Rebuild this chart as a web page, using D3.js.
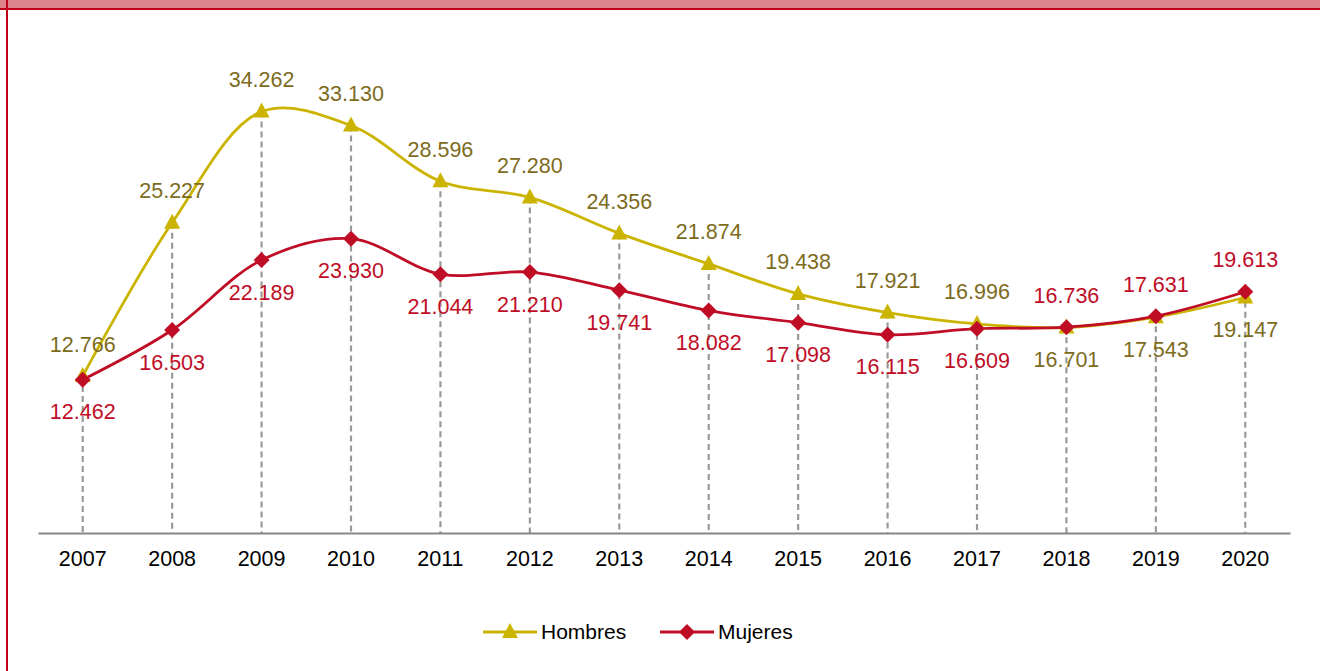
<!DOCTYPE html>
<html>
<head>
<meta charset="utf-8">
<script src="https://cdn.jsdelivr.net/npm/d3@7"></script>
<style>
  body { margin: 0; background: #fff; }
  svg { display: block; font-family: "Liberation Sans", Arial, sans-serif; }
</style>
</head>
<body>
<div class="chart"></div>
<script>
var years = ["2007", "2008", "2009", "2010", "2011", "2012", "2013", "2014", "2015", "2016", "2017", "2018", "2019", "2020"];
var hombres = [12.766, 25.227, 34.262, 33.130, 28.596, 27.280, 24.356, 21.874, 19.438, 17.921, 16.996, 16.701, 17.543, 19.147];
var mujeres = [12.462, 16.503, 22.189, 23.930, 21.044, 21.210, 19.741, 18.082, 17.098, 16.115, 16.609, 16.736, 17.631, 19.613];
// label above (-1) or below (+1) the point
var hombresPos = [-1, -1, -1, -1, -1, -1, -1, -1, -1, -1, -1, 1, 1, 1];
var mujeresPos = [1, 1, 1, 1, 1, 1, 1, 1, 1, 1, 1, -1, -1, -1];

var svgW = 1320, svgH = 671;
var margin = { top: 41, right: 30, bottom: 138, left: 38 };
var w = svgW - margin.left - margin.right;
var h = svgH - margin.top - margin.bottom;

var svg = d3.select(".chart").append("svg")
    .attr("width", svgW)
    .attr("height", svgH);

// frame
svg.append("rect").attr("x", 0).attr("y", 0).attr("width", svgW).attr("height", 8).attr("fill", "#dc838c");
svg.append("rect").attr("x", 0).attr("y", 8).attr("width", svgW).attr("height", 2).attr("fill", "#c00018");
svg.append("rect").attr("x", 6).attr("y", 0).attr("width", 2).attr("height", svgH).attr("fill", "#c00018");

var chrt = svg.append("g").attr("transform", "translate(" + margin.left + "," + margin.top + ")");

var xS = d3.scaleBand().domain(years).range([0, w]);
var yS = d3.scaleLinear().domain([0, 40]).range([h, 0]);
function cx(d, i) { return xS(years[i]) + xS.bandwidth() / 2; }

// drop lines
chrt.selectAll(".drop")
    .data(years)
    .enter().append("line")
    .attr("class", "drop")
    .attr("x1", cx).attr("x2", cx)
    .attr("y1", function(d, i) { return yS(Math.max(hombres[i], mujeres[i])); })
    .attr("y2", h)
    .attr("stroke", "#999")
    .attr("stroke-width", 2.2)
    .attr("stroke-dasharray", "6,4");

// x axis
var xAxis = d3.axisBottom(xS).tickSize(0).tickPadding(18);
var gx = chrt.append("g").attr("transform", "translate(0," + h + ")").call(xAxis);
gx.select(".domain").attr("stroke", "#868686").attr("stroke-width", 2);
gx.selectAll("text").attr("font-size", "21.5px").attr("fill", "#000").style("font-family", "Liberation Sans, Arial, sans-serif");

var line = d3.line()
    .x(cx)
    .y(function(d) { return yS(d); })
    .curve(d3.curveCatmullRom.alpha(0.5));

var series = [
  { name: "Hombres", values: hombres, pos: hombresPos, color: "#cbb400", label: "#7d6b1c", marker: "triangle" },
  { name: "Mujeres", values: mujeres, pos: mujeresPos, color: "#c00d26", label: "#c00d26", marker: "diamond" }
];

function markerPath(type) {
  if (type === "triangle") return "M0,-9L8,6L-8,6Z";
  return "M0,-8L8,0L0,8L-8,0Z";
}

series.forEach(function(s) {
  chrt.append("path")
      .datum(s.values)
      .attr("fill", "none")
      .attr("stroke", s.color)
      .attr("stroke-width", 2.8)
      .attr("d", line);
});

series.forEach(function(s) {
  chrt.selectAll(".m-" + s.name)
      .data(s.values)
      .enter().append("path")
      .attr("transform", function(d, i) { return "translate(" + cx(d, i) + "," + yS(d) + ")"; })
      .attr("d", markerPath(s.marker))
      .attr("fill", s.color);

  chrt.selectAll(".l-" + s.name)
      .data(s.values)
      .enter().append("text")
      .attr("x", cx)
      .attr("y", function(d, i) { return yS(d) + s.pos[i] * 32; })
      .attr("dy", "0.35em")
      .attr("text-anchor", "middle")
      .attr("font-size", "21.5px")
      .attr("fill", s.label)
      .text(function(d) { return d3.format(".3f")(d); });
});

// legend
var legend = svg.append("g").attr("transform", "translate(483,632)");
var legX = [0, 177];
series.forEach(function(s, i) {
  var g = legend.append("g").attr("transform", "translate(" + legX[i] + ",0)");
  g.append("line").attr("x1", 0).attr("x2", 54).attr("y1", 0).attr("y2", 0)
      .attr("stroke", s.color).attr("stroke-width", 2.8);
  g.append("path").attr("transform", "translate(27,0)").attr("d", markerPath(s.marker)).attr("fill", s.color);
  g.append("text").attr("x", 58).attr("y", 0).attr("dy", "0.35em")
      .attr("font-size", "21px").attr("fill", "#000").text(s.name);
});
</script>
</body>
</html>
